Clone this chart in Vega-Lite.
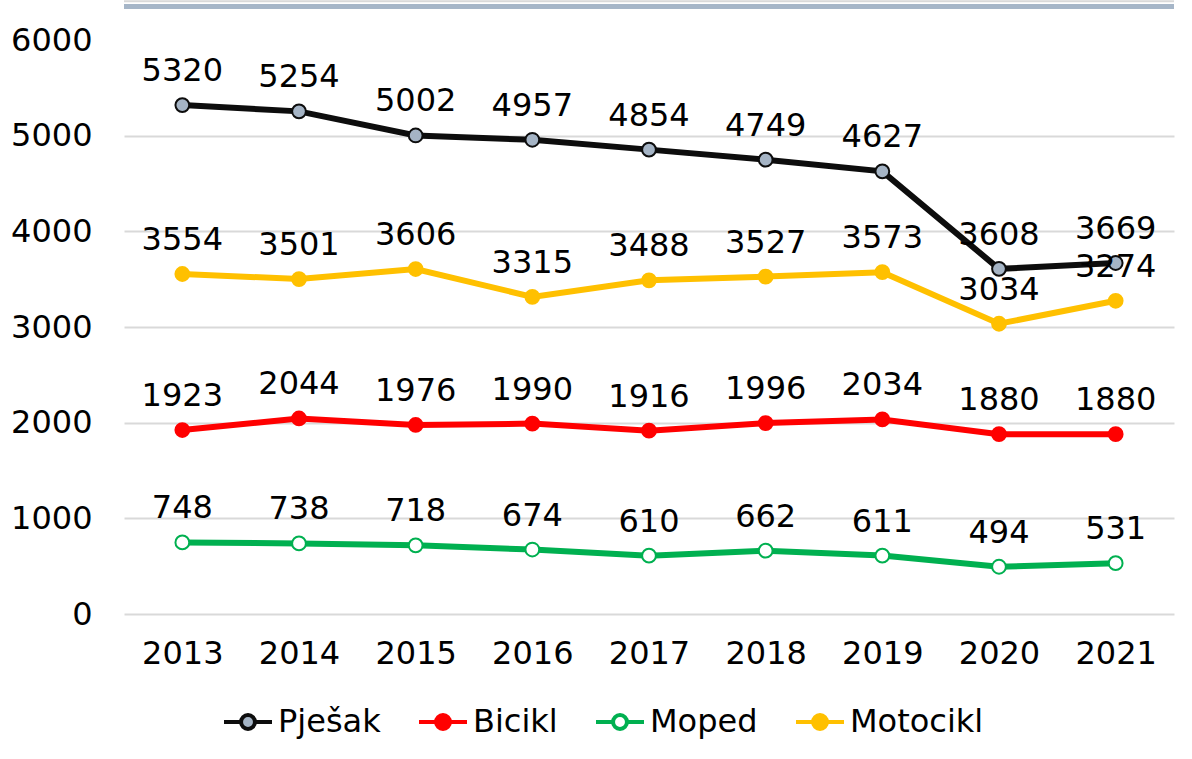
{
  "$schema": "https://vega.github.io/schema/vega-lite/v6.json",
  "width": 1050,
  "height": 574,
  "autosize": "none",
  "padding": {"left": 124, "top": 40, "right": 18, "bottom": 145},
  "background": "white",
  "config": {
    "font": "DejaVu Sans",
    "view": {"stroke": null},
    "axis": {"labelFont": "DejaVu Sans", "labelFontSize": 32, "labelColor": "#000000"}
  },
  "data": {
    "values": [
      {"year": "2013", "series": "Pješak", "value": 5320},
      {"year": "2014", "series": "Pješak", "value": 5254},
      {"year": "2015", "series": "Pješak", "value": 5002},
      {"year": "2016", "series": "Pješak", "value": 4957},
      {"year": "2017", "series": "Pješak", "value": 4854},
      {"year": "2018", "series": "Pješak", "value": 4749},
      {"year": "2019", "series": "Pješak", "value": 4627},
      {"year": "2020", "series": "Pješak", "value": 3608},
      {"year": "2021", "series": "Pješak", "value": 3669},
      {"year": "2013", "series": "Bicikl", "value": 1923},
      {"year": "2014", "series": "Bicikl", "value": 2044},
      {"year": "2015", "series": "Bicikl", "value": 1976},
      {"year": "2016", "series": "Bicikl", "value": 1990},
      {"year": "2017", "series": "Bicikl", "value": 1916},
      {"year": "2018", "series": "Bicikl", "value": 1996},
      {"year": "2019", "series": "Bicikl", "value": 2034},
      {"year": "2020", "series": "Bicikl", "value": 1880},
      {"year": "2021", "series": "Bicikl", "value": 1880},
      {"year": "2013", "series": "Moped", "value": 748},
      {"year": "2014", "series": "Moped", "value": 738},
      {"year": "2015", "series": "Moped", "value": 718},
      {"year": "2016", "series": "Moped", "value": 674},
      {"year": "2017", "series": "Moped", "value": 610},
      {"year": "2018", "series": "Moped", "value": 662},
      {"year": "2019", "series": "Moped", "value": 611},
      {"year": "2020", "series": "Moped", "value": 494},
      {"year": "2021", "series": "Moped", "value": 531},
      {"year": "2013", "series": "Motocikl", "value": 3554},
      {"year": "2014", "series": "Motocikl", "value": 3501},
      {"year": "2015", "series": "Motocikl", "value": 3606},
      {"year": "2016", "series": "Motocikl", "value": 3315},
      {"year": "2017", "series": "Motocikl", "value": 3488},
      {"year": "2018", "series": "Motocikl", "value": 3527},
      {"year": "2019", "series": "Motocikl", "value": 3573},
      {"year": "2020", "series": "Motocikl", "value": 3034},
      {"year": "2021", "series": "Motocikl", "value": 3274}
    ]
  },
  "layer": [
    {
      "mark": {"type": "line", "strokeWidth": 6},
      "encoding": {
        "x": {
          "field": "year", "type": "ordinal",
          "scale": {"type": "point", "padding": 0.5},
          "axis": {"title": null, "domain": false, "ticks": false, "labelAngle": 0, "labelPadding": 24, "grid": false}
        },
        "y": {
          "field": "value", "type": "quantitative",
          "scale": {"domain": [0, 6000], "nice": false},
          "axis": {
            "title": null, "domain": false, "ticks": false, "format": "d",
            "values": [0, 1000, 2000, 3000, 4000, 5000, 6000],
            "labelPadding": 32,
            "grid": true, "gridColor": "#D9D9D9", "gridWidth": 2,
            "gridOpacity": {"condition": {"test": "datum.value == 6000", "value": 0}, "value": 1}
          }
        },
        "stroke": {
          "field": "series", "type": "nominal",
          "scale": {"domain": ["Pješak", "Bicikl", "Moped", "Motocikl"], "range": ["#0D0D0D", "#FF0000", "#00B050", "#FFC000"]},
          "legend": {
            "title": null, "orient": "none", "legendX": 98, "legendY": 656, "direction": "horizontal",
            "symbolType": "M-1,0H-0.29M0.29,0H1M0.29,0A0.29,0.29,0,1,1,-0.29,0A0.29,0.29,0,1,1,0.29,0Z",
            "symbolSize": 2304, "symbolStrokeWidth": 4,
            "labelFontSize": 32, "labelFont": "DejaVu Sans", "labelColor": "#000000",
            "columnPadding": 30, "labelOffset": 4
          }
        }
      }
    },
    {
      "mark": {"type": "point", "filled": false, "size": 190, "strokeWidth": 2, "opacity": 1},
      "encoding": {
        "x": {"field": "year", "type": "ordinal"},
        "y": {"field": "value", "type": "quantitative"},
        "stroke": {"field": "series", "type": "nominal"},
        "fill": {
          "field": "series", "type": "nominal",
          "scale": {"domain": ["Pješak", "Bicikl", "Moped", "Motocikl"], "range": ["#A5B4C5", "#FF0000", "#FFFFFF", "#FFC000"]},
          "legend": {
            "title": null, "orient": "none", "legendX": 98, "legendY": 656, "direction": "horizontal",
            "symbolType": "M-1,0H-0.29M0.29,0H1M0.29,0A0.29,0.29,0,1,1,-0.29,0A0.29,0.29,0,1,1,0.29,0Z",
            "symbolSize": 2304, "symbolStrokeWidth": 4,
            "labelFontSize": 32, "labelFont": "DejaVu Sans", "labelColor": "#000000",
            "columnPadding": 30, "labelOffset": 4
          }
        }
      }
    },
    {
      "mark": {"type": "text", "fontSize": 32, "font": "DejaVu Sans", "color": "#000000", "baseline": "alphabetic", "dy": -24},
      "encoding": {
        "x": {"field": "year", "type": "ordinal"},
        "y": {"field": "value", "type": "quantitative"},
        "text": {"field": "value", "type": "quantitative", "format": "d"}
      }
    },
    {
      "data": {"values": [{"band": "outer"}]},
      "mark": {"type": "rule", "color": "#D9D9D9", "strokeWidth": 2, "clip": false},
      "encoding": {"y": {"datum": 6404, "type": "quantitative"}}
    },
    {
      "data": {"values": [{"band": "inner"}]},
      "mark": {"type": "rule", "color": "#A6B6C8", "strokeWidth": 5, "clip": false},
      "encoding": {"y": {"datum": 6351, "type": "quantitative"}}
    }
  ]
}
